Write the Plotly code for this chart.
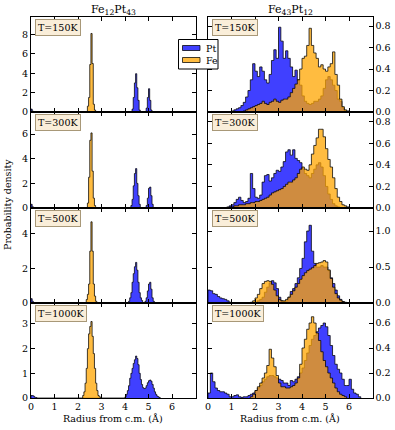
import numpy as np
import plotly.graph_objects as go
from plotly.subplots import make_subplots

temps = ["T=150K", "T=300K", "T=500K", "T=1000K"]

# Fe12Pt43 (left column), 0.05 A bins, segments of (first bin edge, densities)
left_bin = 0.05
fe12_fe_150 = [(2.40, [0.6, 1.5, 4.9, 8.1, 5.0, 0.8, 0.2])]
fe12_pt_150 = [(0.00, [0.3, 0.1]),
               (4.30, [0.3, 1.5, 3.0, 3.95, 2.5, 1.2, 0.2]),
               (4.90, [0.4, 1.5, 2.4, 1.2, 0.2])]
fe12_fe_300 = [(2.40, [0.4, 2.5, 5.5, 6.1, 3.0, 0.8, 0.2])]
fe12_pt_300 = [(0.00, [0.3, 0.1]),
               (4.25, [0.2, 0.7, 1.8, 2.8, 3.2, 2.0, 1.0, 0.3]),
               (4.90, [0.2, 0.8, 1.6, 1.7, 1.0, 0.3])]
fe12_fe_500 = [(2.35, [0.2, 0.5, 1.1, 3.0, 4.7, 3.0, 1.1, 0.4, 0.1])]
fe12_pt_500 = [(0.00, [0.25, 0.1]),
               (4.15, [0.1, 0.3, 0.6, 1.2, 1.7, 2.1, 2.35, 1.9, 1.2, 0.6, 0.3, 0.15]),
               (4.85, [0.1, 0.3, 0.7, 1.1, 1.2, 0.8, 0.3, 0.1])]
fe12_fe_1000 = [(2.20, [0.1, 0.25, 0.6, 1.2, 2.0, 2.6, 2.9, 3.1, 2.5, 1.8,
                        1.2, 0.6, 0.3, 0.1, 0.05])]
fe12_pt_1000 = [(0.00, [0.1, 0.1, 0.07, 0.03, 0.02]),
                (4.00, [0.05, 0.15, 0.3, 0.5, 0.8, 1.0, 1.2, 1.4, 1.55, 1.7,
                        1.6, 1.35, 1.0, 0.75, 0.55, 0.42, 0.38, 0.4, 0.5, 0.62,
                        0.7, 0.73, 0.68, 0.55, 0.4, 0.25, 0.15, 0.08, 0.05, 0.02])]

# Fe43Pt12 (right column), 0.1 A bins
right_bin = 0.1
fe43_pt_150 = [(1.0, [0.01, 0.02, 0.03, 0.04, 0.06, 0.09, 0.14, 0.2, 0.3, 0.45,
                      0.38, 0.33, 0.42, 0.38, 0.3, 0.27, 0.35, 0.48, 0.58, 0.5,
                      0.79, 0.66, 0.5, 0.57, 0.5, 0.42, 0.33, 0.39, 0.3, 0.25,
                      0.15, 0.1, 0.08, 0.07, 0.08, 0.1, 0.1, 0.12, 0.15, 0.22,
                      0.3, 0.33, 0.3, 0.25, 0.2, 0.12, 0.1, 0.04, 0.01])]
fe43_fe_150 = [(1.5, [0.01, 0.02, 0.03, 0.04, 0.05, 0.06, 0.07, 0.08, 0.1, 0.08,
                      0.07, 0.09, 0.1, 0.12, 0.1, 0.09, 0.11, 0.12, 0.12, 0.14,
                      0.18, 0.22, 0.26, 0.3, 0.4, 0.5, 0.52, 0.62, 0.78, 0.62,
                      0.55, 0.5, 0.42, 0.44, 0.4, 0.38, 0.42, 0.45, 0.56, 0.35,
                      0.25, 0.12, 0.05, 0.02, 0.01])]
fe43_pt_300 = [(0.8, [0.01, 0.02, 0.03, 0.05, 0.08, 0.1, 0.07, 0.05, 0.06, 0.09,
                      0.32, 0.18, 0.1, 0.09, 0.12, 0.24, 0.3, 0.31, 0.25, 0.28,
                      0.32, 0.35, 0.34, 0.38, 0.43, 0.52, 0.54, 0.49, 0.54, 0.46,
                      0.44, 0.42, 0.36, 0.32, 0.3, 0.28, 0.32, 0.36, 0.4, 0.42,
                      0.38, 0.3, 0.2, 0.13, 0.08, 0.04, 0.02, 0.01])]
fe43_fe_300 = [(0.9, [0.01, 0.01, 0.02, 0.02, 0.03, 0.03, 0.03, 0.04, 0.04, 0.05,
                      0.05, 0.06, 0.06, 0.07, 0.08, 0.09, 0.1, 0.12, 0.14, 0.15,
                      0.16, 0.17, 0.18, 0.2, 0.22, 0.24, 0.24, 0.26, 0.28, 0.32,
                      0.36, 0.38, 0.36, 0.35, 0.4, 0.5, 0.58, 0.65, 0.73, 0.73,
                      0.66, 0.55, 0.45, 0.38, 0.28, 0.18, 0.1, 0.06, 0.03, 0.02,
                      0.01])]
fe43_pt_500 = [(0.0, [0.18, 0.17, 0.13, 0.12, 0.09, 0.07, 0.06, 0.05, 0.03, 0.01]),
               (2.0, [0.01, 0.03, 0.05, 0.08, 0.15, 0.22, 0.28, 0.31, 0.28, 0.2,
                      0.08, 0.03, 0.02, 0.03, 0.08, 0.16, 0.2, 0.27, 0.35, 0.48,
                      0.62, 0.85, 1.0, 1.08, 0.72, 0.55, 0.5, 0.5, 0.52, 0.5,
                      0.5, 0.45, 0.35, 0.27, 0.18, 0.1, 0.05, 0.02])]
fe43_fe_500 = [(1.8, [0.01, 0.03, 0.07, 0.12, 0.2, 0.27, 0.3, 0.31, 0.3, 0.26,
                      0.18, 0.1, 0.05, 0.03, 0.03, 0.05, 0.08, 0.12, 0.17, 0.22,
                      0.27, 0.33, 0.38, 0.42, 0.45, 0.47, 0.49, 0.52, 0.55, 0.56,
                      0.57, 0.59, 0.57, 0.46, 0.34, 0.22, 0.13, 0.07, 0.04, 0.02,
                      0.01])]
fe43_pt_1000 = [(0.0, [0.04, 0.2, 0.13, 0.08, 0.06, 0.05, 0.05, 0.04, 0.03, 0.01,
                       0.01, 0.02, 0.025, 0.01, 0.005, 0.01, 0.01, 0.02, 0.03, 0.04,
                       0.06, 0.08, 0.1, 0.13, 0.15, 0.17, 0.18, 0.18, 0.17, 0.16,
                       0.15, 0.14, 0.12, 0.12, 0.1, 0.14, 0.13, 0.15, 0.17, 0.2,
                       0.24, 0.3, 0.36, 0.42, 0.47, 0.5, 0.53, 0.56, 0.58, 0.6,
                       0.57, 0.5, 0.42, 0.34, 0.27, 0.23, 0.2, 0.15, 0.1, 0.1,
                       0.15, 0.07, 0.04, 0.03, 0.01])]
fe43_fe_1000 = [(1.8, [0.01, 0.03, 0.06, 0.09, 0.12, 0.16, 0.2, 0.26, 0.39, 0.32,
                       0.25, 0.18, 0.12, 0.09, 0.09, 0.08, 0.08, 0.09, 0.1, 0.12,
                       0.16, 0.27, 0.4, 0.47, 0.55, 0.6, 0.65, 0.6, 0.52, 0.46,
                       0.37, 0.3, 0.25, 0.2, 0.16, 0.12, 0.08, 0.05, 0.03, 0.02,
                       0.01])]

left_pt = [fe12_pt_150, fe12_pt_300, fe12_pt_500, fe12_pt_1000]
left_fe = [fe12_fe_150, fe12_fe_300, fe12_fe_500, fe12_fe_1000]
right_pt = [fe43_pt_150, fe43_pt_300, fe43_pt_500, fe43_pt_1000]
right_fe = [fe43_fe_150, fe43_fe_300, fe43_fe_500, fe43_fe_1000]

left_ymax = [9.8, 7.8, 5.5, 3.85]
left_ticks = [[0, 2, 4, 6, 8], [0, 2, 4, 6], [0, 2, 4], [0, 1, 2, 3]]
right_ymax = [0.885, 0.89, 1.32, 0.76]
right_ticks = [[0, 0.2, 0.4, 0.6, 0.8], [0, 0.2, 0.4, 0.6, 0.8],
               [0, 0.5, 1.0], [0, 0.2, 0.4, 0.6]]

FONT = "DejaVu Serif"
W, H = 395, 430
PT_FILL, PT_LINE = "rgba(0,0,255,0.75)", "rgba(0,0,0,0.75)"
FE_FILL, FE_LINE = "rgba(255,165,0,0.75)", "rgba(0,0,0,0.75)"


def steps(segments, width):
    """Outline of a step histogram, closed to zero at both ends."""
    xs, ys = [], []
    for start, heights in segments:
        edges = np.round(start + width * np.arange(len(heights) + 1), 4)
        xs += [edges[0]] + list(edges)
        ys += [0] + list(heights) + [0]
    return xs, ys


def px(x, y):
    """Pixel position (from top-left) to paper coordinates."""
    return x / W, 1 - y / H


fig = make_subplots(rows=4, cols=2)

rows_px = [(17, 112), (112, 208), (208, 303), (303, 398)]
cols_px = [(31, 195.5), (208, 372.5)]

for i in range(4):
    row = i + 1
    for col, pts, fes, width in ((1, left_pt, left_fe, left_bin),
                                 (2, right_pt, right_fe, right_bin)):
        for segs, fill, line, name in ((pts[i], PT_FILL, PT_LINE, "Pt"),
                                       (fes[i], FE_FILL, FE_LINE, "Fe")):
            x, y = steps(segs, width)
            fig.add_trace(go.Scatter(
                x=x, y=y, mode="lines", line_shape="hv", fill="tozeroy",
                fillcolor=fill, line=dict(color=line, width=1),
                name=name, showlegend=False, hoverinfo="skip",
            ), row=row, col=col)

    top, bot = rows_px[i]
    ydom = [1 - bot / H, 1 - top / H]
    for col in (1, 2):
        left, right = cols_px[col - 1]
        fig.update_xaxes(
            domain=[left / W, right / W], range=[0, 7],
            tickvals=list(range(7)), showticklabels=(row == 4),
            row=row, col=col,
        )
    fig.update_yaxes(domain=ydom, range=[0, left_ymax[i]],
                     tickvals=left_ticks[i], row=row, col=1)
    fig.update_yaxes(domain=ydom, range=[0, right_ymax[i]],
                     tickvals=right_ticks[i], tickformat=".1f", side="right",
                     row=row, col=2)

    for col in (1, 2):
        axn = 2 * i + col
        suffix = "" if axn == 1 else str(axn)
        fig.add_annotation(
            text=temps[i], xref=f"x{suffix} domain", yref=f"y{suffix} domain",
            x=0.025, y=0.975, xanchor="left", yanchor="top", showarrow=False,
            font=dict(family=FONT, size=9.5, color="black"),
            bgcolor="#faeed9", bordercolor="#a89878", borderwidth=1, borderpad=2,
        )

axis_style = dict(
    showline=True, linecolor="black", linewidth=1, mirror="ticks",
    ticks="inside", ticklen=4, tickcolor="black", showgrid=False,
    zeroline=False, automargin=False,
    tickfont=dict(family=FONT, size=9.5, color="black"),
)
fig.update_xaxes(**axis_style)
fig.update_yaxes(**axis_style)

for text, xc in (("Fe<sub>12</sub>Pt<sub>43</sub>", 113),
                 ("Fe<sub>43</sub>Pt<sub>12</sub>", 290)):
    x, y = px(xc, 10)
    fig.add_annotation(text=text, xref="paper", yref="paper", x=x, y=y,
                       xanchor="center", yanchor="middle", showarrow=False,
                       font=dict(family=FONT, size=11, color="black"))
for xc in (113, 290):
    x, y = px(xc, 418)
    fig.add_annotation(text="Radius from c.m. (Å)", xref="paper", yref="paper",
                       x=x, y=y, xanchor="center", yanchor="middle",
                       showarrow=False,
                       font=dict(family=FONT, size=9.5, color="black"))
x, y = px(8, 205)
fig.add_annotation(text="Probability density", xref="paper", yref="paper",
                   x=x, y=y, xanchor="center", yanchor="middle", textangle=-90,
                   showarrow=False, font=dict(family=FONT, size=9.5, color="black"))

# legend drawn by hand so it keeps the reference's compact size
x0, y0 = px(178.5, 39.5)
x1, y1 = px(218, 69)
fig.add_shape(type="rect", xref="paper", yref="paper", x0=x0, y0=y0, x1=x1, y1=y1,
              fillcolor="white", line=dict(color="black", width=1), layer="above")
for name, fill, line, yc in (("Pt", PT_FILL, PT_LINE, 48), ("Fe", FE_FILL, FE_LINE, 60)):
    a0, b0 = px(182.5, yc - 2.5)
    a1, b1 = px(200, yc + 2.5)
    fig.add_shape(type="rect", xref="paper", yref="paper", x0=a0, y0=b0, x1=a1, y1=b1,
                  fillcolor=fill, line=dict(color=line, width=1), layer="above")
    tx, ty = px(204, yc)
    fig.add_annotation(text=name, xref="paper", yref="paper", x=tx, y=ty,
                       xanchor="left", yanchor="middle", showarrow=False,
                       font=dict(family=FONT, size=9.5, color="black"))

fig.update_layout(
    width=W, height=H,
    margin=dict(l=0, r=0, t=0, b=0),
    paper_bgcolor="white", plot_bgcolor="white",
    font=dict(family=FONT, size=9.5, color="black"),
    showlegend=False,
)

fig.write_html("out.html", config={"displayModeBar": False},
               post_script="document.body.style.margin = '0';")
